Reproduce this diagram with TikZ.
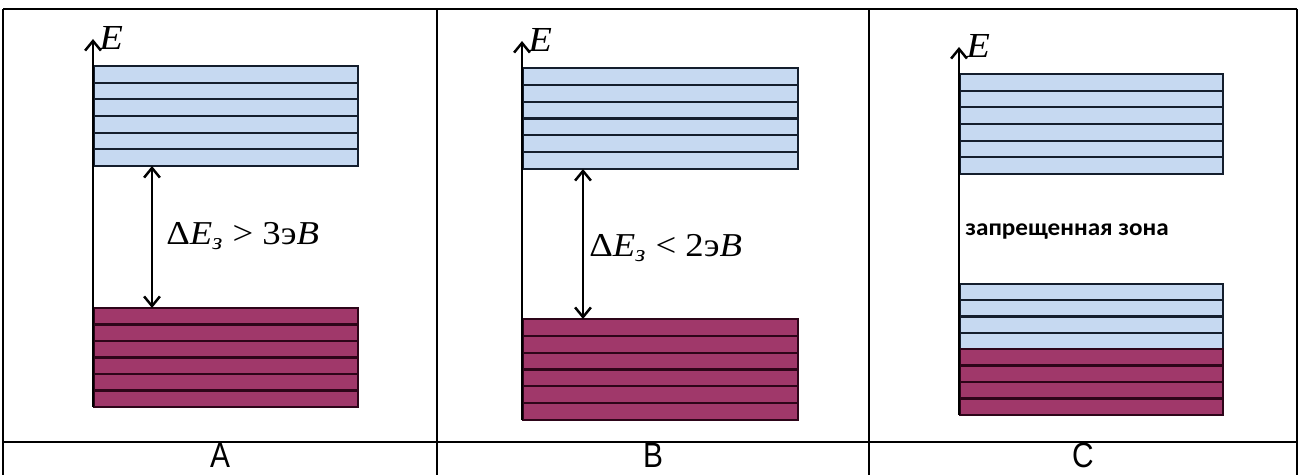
\documentclass[tikz,border=0pt]{standalone}
\usepackage{fontspec}
\setmainfont{Liberation Sans}
\newfontfamily\tnr{Liberation Serif}
\newfontfamily\carl{Carlito}
\usetikzlibrary{arrows.meta}
\definecolor{bandblue}{RGB}{198,217,241}
\definecolor{bandmag}{RGB}{160,56,106}
\definecolor{bluestripe}{RGB}{20,30,45}
\definecolor{magstripe}{RGB}{45,5,25}
\tikzset{
  tableline/.style={line width=1.3pt,black},
  axisline/.style={line width=1.3pt,-{Straight Barb[length=5.5pt,width=9pt,line width=1.4pt]}},
  gaparrow/.style={line width=1.3pt,{Straight Barb[length=5.5pt,width=9pt,line width=1.4pt]}-{Straight Barb[length=5.5pt,width=9pt,line width=1.4pt]}},
  elabel/.style={inner sep=0pt,anchor=base west,font=\tnr\fontsize{20pt}{23pt}\selectfont},
  gaplabel/.style={inner sep=0pt,anchor=base west,font=\tnr\fontsize{19pt}{22pt}\selectfont},
  collabel/.style={inner sep=0pt,anchor=base,font=\fontsize{20pt}{23pt}\selectfont},
}
\newcommand\drawband[7]{%
  \fill[#6] (#1,#2) rectangle (#3,#4);
  \pgfmathsetmacro\bandstep{(#4-#2)/#5}
  \foreach \k in {1,...,#5}{\draw[line width=1.3pt,#7] (#1,{#2+\k*\bandstep}) -- (#3,{#2+\k*\bandstep});}
  \draw[line width=1.3pt,#7] (#1,#2) rectangle (#3,#4);
}
\begin{document}
\begin{tikzpicture}[x=0.02cm,y=-0.02cm]
\useasboundingbox (0,0) rectangle (1300,475);
% table
\draw[tableline] (3,9) -- (1297,9);
\draw[tableline] (3,9) -- (3,476);
\draw[tableline] (437,9) -- (437,476);
\draw[tableline] (869,9) -- (869,476);
\draw[tableline] (1297,9) -- (1297,476);
\draw[tableline] (3,442) -- (1297,442);
% ---------- A ----------
\drawband{94}{66}{358}{166}{6}{bandblue}{bluestripe}
\drawband{94}{308}{358}{407}{6}{bandmag}{magstripe}
\coordinate (axAbot) at (93,407);
\coordinate (axAtop) at (93,39);
\draw[axisline] (axAbot) -- (axAtop);
\node[elabel] (EA) at (99,50) {\scalebox{1.1}[1]{\textit{E}}};
\coordinate (gapAtop) at (152,166);
\coordinate (gapAbot) at (152,308);
\draw[gaparrow] (gapAtop) -- (gapAbot);
\node[gaplabel] (dEA) at (166,245) {\scalebox{1.1}[1]{Δ\textit{E}\textsubscript{\textit{з}}\ >\ 3э\textit{B}}};
% ---------- B ----------
\drawband{523}{68}{798}{169}{6}{bandblue}{bluestripe}
\drawband{523}{319}{798}{420}{6}{bandmag}{magstripe}
\coordinate (axBbot) at (522,420);
\coordinate (axBtop) at (522,41);
\draw[axisline] (axBbot) -- (axBtop);
\node[elabel] (EB) at (528,52) {\scalebox{1.1}[1]{\textit{E}}};
\coordinate (gapBtop) at (583,169);
\coordinate (gapBbot) at (583,319);
\draw[gaparrow] (gapBtop) -- (gapBbot);
\node[gaplabel] (dEB) at (589,257) {\scalebox{1.1}[1]{Δ\textit{E}\textsubscript{\textit{з}}\ <\ 2э\textit{B}}};
% ---------- C ----------
\drawband{960}{74}{1223}{174}{6}{bandblue}{bluestripe}
\drawband{960}{284}{1223}{349}{4}{bandblue}{bluestripe}
\drawband{960}{349}{1223}{415}{4}{bandmag}{magstripe}
\coordinate (axCbot) at (959,415);
\coordinate (axCtop) at (959,47);
\draw[axisline] (axCbot) -- (axCtop);
\node[elabel] (EC) at (966,58) {\scalebox{1.1}[1]{\textit{E}}};
\node[inner sep=0pt,anchor=west,font=\carl\bfseries\fontsize{13.5pt}{15pt}\selectfont] (zone) at (965,232) {\scalebox{1.06}[1]{запрещенная зона}};
% column letters
\node[collabel] (la) at (220,467) {\scalebox{0.85}[1]{A}};
\node[collabel] (lb) at (653,467) {\scalebox{0.85}[1]{B}};
\node[collabel] (lc) at (1083,467) {\scalebox{0.85}[1]{C}};
\end{tikzpicture}
\end{document}
